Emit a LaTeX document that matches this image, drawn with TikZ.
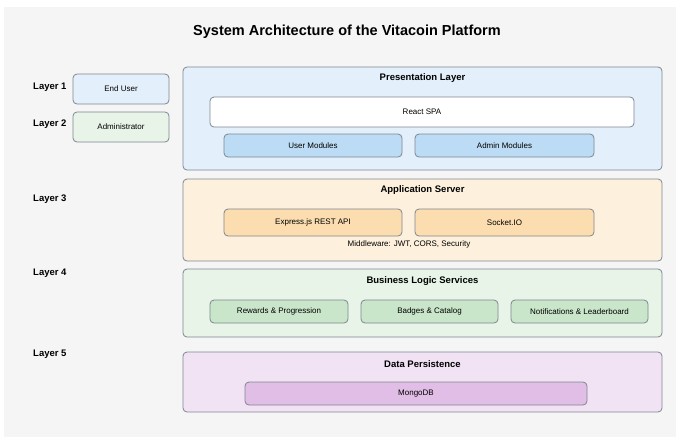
\documentclass[tikz,border=0pt]{standalone}
\usepackage{fontspec}
\setmainfont{Liberation Sans}
\definecolor{bgpanel}{HTML}{F5F5F5}
\definecolor{edge}{HTML}{7D8791}
\definecolor{presfill}{HTML}{E3EFFB}
\definecolor{modfill}{HTML}{BCDCF5}
\definecolor{appfill}{HTML}{FDF0DD}
\definecolor{appin}{HTML}{FCDDB0}
\definecolor{bizfill}{HTML}{E7F4E7}
\definecolor{bizin}{HTML}{C9E6CA}
\definecolor{datafill}{HTML}{F2E3F4}
\definecolor{datain}{HTML}{E1BEE6}
\definecolor{adminfill}{HTML}{E8F4E8}
\tikzset{
  box/.style={draw=edge, line width=0.8pt, rounded corners=4pt, inner sep=0pt, font=\fontsize{8}{9}\selectfont},
  layertitle/.style={font=\bfseries\fontsize{9.5}{11}\selectfont, inner sep=0pt},
  layerlabel/.style={font=\bfseries\fontsize{9.5}{11}\selectfont, inner sep=0pt, anchor=west},
  note/.style={font=\fontsize{8}{9}\selectfont, inner sep=0pt}
}
\begin{document}
\begin{tikzpicture}[x=1pt,y=-1pt]
\useasboundingbox (0,0) rectangle (676,437);
\fill[white] (0,0) rectangle (676,437);
\fill[bgpanel] (4,7) rectangle (676,437);
\node[font=\bfseries\fontsize{14.5}{17}\selectfont, inner sep=0pt] (title) at (347,32) {System Architecture of the Vitacoin Platform};
% layer labels
\node[layerlabel] (l1) at (33,87) {Layer 1};
\node[layerlabel] (l2) at (33,124) {Layer 2};
\node[layerlabel] (l3) at (33,199) {Layer 3};
\node[layerlabel] (l4) at (33,273) {Layer 4};
\node[layerlabel] (l5) at (33,354) {Layer 5};
% left boxes
\node[box, fill=presfill, minimum width=96pt, minimum height=30pt] (enduser) at (121,89) {End User};
\node[box, fill=adminfill, minimum width=96pt, minimum height=30pt] (admin) at (121,127) {Administrator};
% Presentation layer
\node[box, fill=presfill, minimum width=479pt, minimum height=103pt] (pres) at (422.5,118.5) {};
\node[layertitle] (prestitle) at (422.5,78) {Presentation Layer};
\node[box, fill=white, minimum width=424pt, minimum height=30pt] (react) at (422,112) {React SPA};
\node[box, fill=modfill, minimum width=178pt, minimum height=23pt] (usermod) at (313,145.5) {User Modules};
\node[box, fill=modfill, minimum width=179pt, minimum height=23pt] (adminmod) at (504.5,145.5) {Admin Modules};
% Application server
\node[box, fill=appfill, minimum width=479pt, minimum height=82pt] (app) at (422.5,220) {};
\node[layertitle] (apptitle) at (422.5,190) {Application Server};
\node[box, fill=appin, minimum width=178pt, minimum height=27pt] (express) at (313,222.5) {Express.js REST API};
\node[box, fill=appin, minimum width=179pt, minimum height=27pt] (socket) at (504.5,222.5) {Socket.IO};
\node[note] (mw) at (409,244) {Middleware: JWT, CORS, Security};
% Business logic
\node[box, fill=bizfill, minimum width=479pt, minimum height=68pt] (biz) at (422.5,303) {};
\node[layertitle] (biztitle) at (422.5,281) {Business Logic Services};
\node[box, fill=bizin, minimum width=138pt, minimum height=23pt] (rewards) at (279,311.5) {Rewards \& Progression};
\node[box, fill=bizin, minimum width=137pt, minimum height=23pt] (badges) at (429.5,311.5) {Badges \& Catalog};
\node[box, fill=bizin, minimum width=137pt, minimum height=23pt] (notif) at (579.5,311.5) {Notifications \& Leaderboard};
% Data persistence
\node[box, fill=datafill, minimum width=479pt, minimum height=60pt] (data) at (422.5,382) {};
\node[layertitle] (datatitle) at (422.5,364) {Data Persistence};
\node[box, fill=datain, minimum width=342pt, minimum height=23pt] (mongo) at (416,393.5) {MongoDB};
\end{tikzpicture}
\end{document}
